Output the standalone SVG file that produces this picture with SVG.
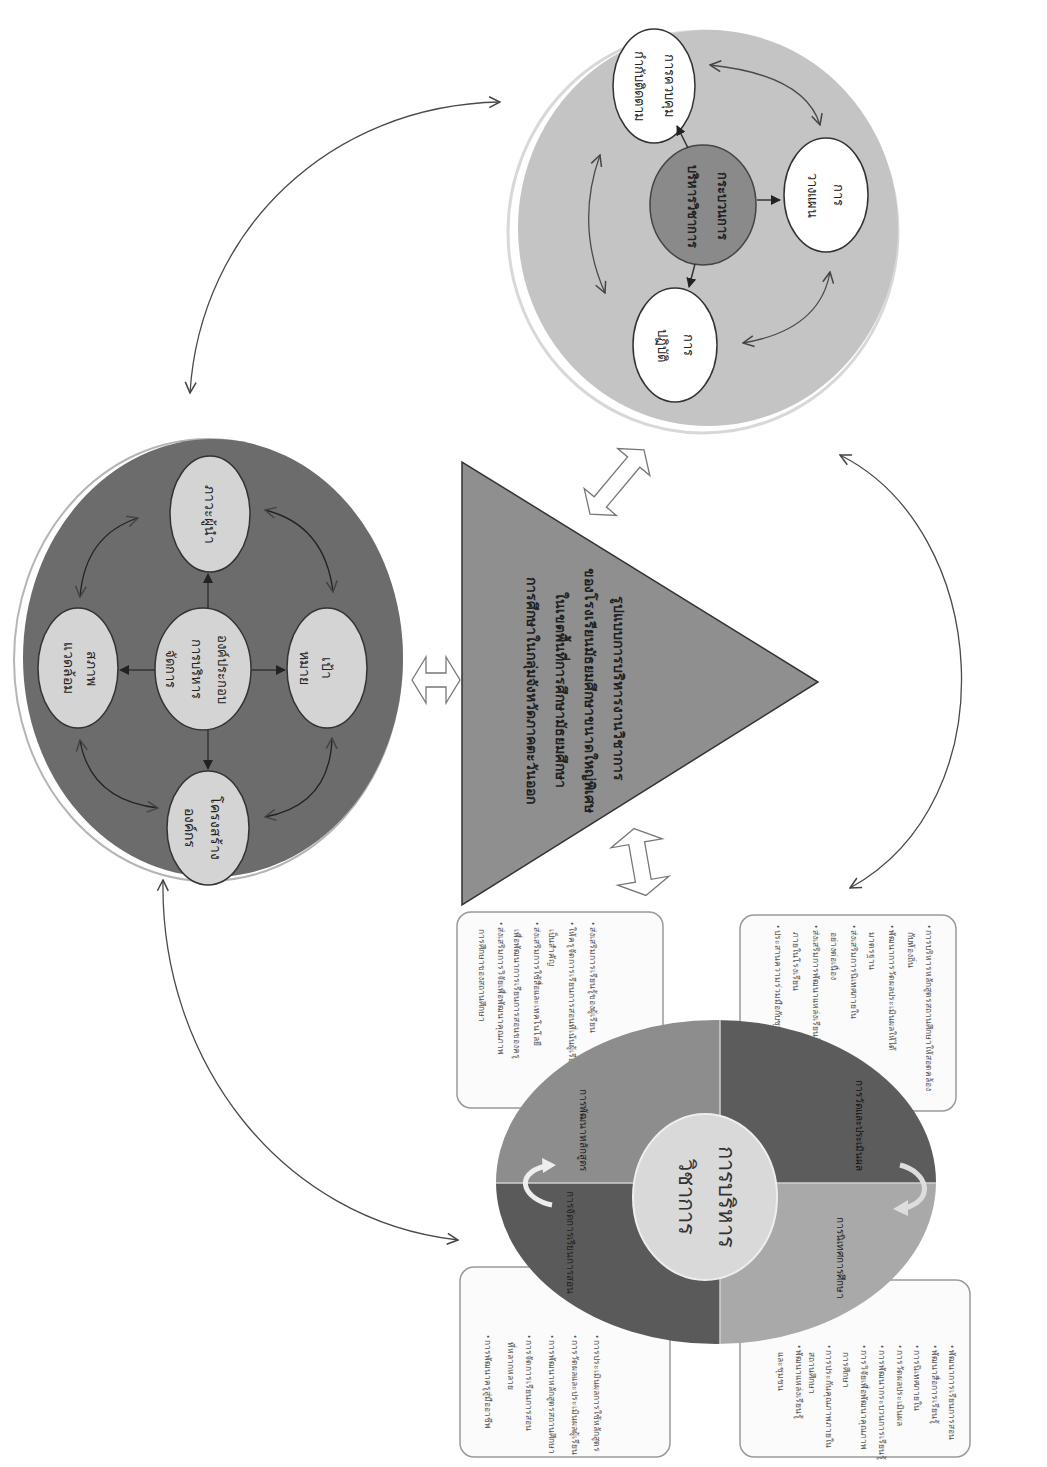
<svg xmlns="http://www.w3.org/2000/svg" width="1047" height="1467" viewBox="0 0 1047 1467">
<defs>
<style>
text{font-family:"Noto Sans","DejaVu Sans","Liberation Sans",sans-serif;fill:#222;}
.lbl{font-size:13px;}
.big{font-size:14px;}
.bold{font-weight:bold;}
.sm{font-size:8.5px;fill:#555;}
.q{font-size:10px;fill:#222;}
.oval{stroke:#333;stroke-width:1.5;}
.conn{fill:none;stroke:#4a4a4a;stroke-width:1.3;}
.inner{fill:none;stroke:#333;stroke-width:1.5;}
.box{fill:#fbfbfb;stroke:#9a9a9a;stroke-width:1.5;}
.blk{fill:#fff;stroke:#777;stroke-width:1.3;}
</style>
<marker id="open" viewBox="0 0 12 12" refX="11" refY="6" markerWidth="13" markerHeight="13" markerUnits="userSpaceOnUse" orient="auto-start-reverse">
<path d="M1,1 L11,6 L1,11" fill="none" stroke="#444" stroke-width="1.4"/>
</marker>
<marker id="solid" viewBox="0 0 10 10" refX="9" refY="5" markerWidth="10" markerHeight="10" markerUnits="userSpaceOnUse" orient="auto">
<path d="M0,0 L10,5 L0,10 z" fill="#222"/>
</marker>
<clipPath id="bclip"><ellipse cx="716" cy="1182" rx="220" ry="162"/></clipPath>
</defs>
<rect width="1047" height="1467" fill="#fff"/>

<!-- long connectors -->
<g id="connectors">
<path class="conn" d="M190,393 C200,230 330,105 500,102" marker-start="url(#open)" marker-end="url(#open)"/>
<path class="conn" d="M840,455 C990,530 1010,800 850,888" marker-start="url(#open)" marker-end="url(#open)"/>
<path class="conn" d="M163,880 C160,1060 280,1220 458,1240" marker-start="url(#open)" marker-end="url(#open)"/>
<g class="blk">
<polygon points="412,680 426,657 426,673 446,673 446,657 460,680 446,703 446,687 426,687 426,703"/>
<polygon transform="translate(617,482) rotate(-50)" points="-42,0 -26,-21 -26,-8 26,-8 26,-21 42,0 26,21 26,8 -26,8 -26,21"/>
<polygon transform="translate(640,862) rotate(80)" points="-34,0 -19,-26 -19,-8 19,-8 19,-26 34,0 19,26 19,8 -19,8 -19,26"/>
</g>
</g>

<!-- top circle: process -->
<g id="process">
<ellipse cx="703" cy="232" rx="195" ry="201" fill="none" stroke="#d8d8d8" stroke-width="3"/>
<ellipse cx="708" cy="228" rx="190" ry="198" fill="#c4c4c4"/>
<ellipse id="proc-center" cx="703" cy="205" rx="53" ry="60" fill="#8a8a8a" stroke="#444" stroke-width="1.5"/>
<text class="lbl bold" transform="translate(708,206) rotate(90)" text-anchor="middle" dominant-baseline="central"><tspan x="0" y="-15">กระบวนการ</tspan><tspan x="0" y="15">บริหารวิชาการ</tspan></text>
<g id="proc-plan"><ellipse class="oval" cx="826" cy="195" rx="42" ry="57" fill="#fff"/>
<text class="lbl" transform="translate(826,195) rotate(90)" text-anchor="middle" dominant-baseline="central"><tspan x="0" y="-13">การ</tspan><tspan x="0" y="13">วางแผน</tspan></text></g>
<g id="proc-do"><ellipse class="oval" cx="675" cy="345" rx="42" ry="57" fill="#fff"/>
<text class="lbl" transform="translate(676,345) rotate(90)" text-anchor="middle" dominant-baseline="central"><tspan x="0" y="-13">การ</tspan><tspan x="0" y="13">ปฏิบัติ</tspan></text></g>
<g id="proc-check"><ellipse class="oval" cx="654" cy="86" rx="41" ry="57" fill="#fff"/>
<text class="lbl" transform="translate(655,86) rotate(90)" text-anchor="middle" dominant-baseline="central"><tspan x="0" y="-15">การควบคุม</tspan><tspan x="0" y="15">กำกับติดตาม</tspan></text></g>
<path class="inner" d="M757,200 L780,200" marker-end="url(#solid)"/>
<path class="inner" d="M695,264 L689,287" marker-end="url(#solid)"/>
<path class="inner" d="M688,148 L677,126" marker-end="url(#solid)"/>
<path class="conn" d="M710,65 Q805,75 820,125" marker-start="url(#open)" marker-end="url(#open)"/>
<path class="conn" d="M830,272 Q820,330 743,343" marker-start="url(#open)" marker-end="url(#open)"/>
<path class="conn" d="M600,155 Q575,225 605,293" marker-start="url(#open)" marker-end="url(#open)"/>
</g>

<!-- left ellipse: management factors -->
<g id="factors">
<ellipse cx="208" cy="660" rx="194" ry="221" fill="none" stroke="#b5b5b5" stroke-width="2"/>
<ellipse cx="213" cy="658" rx="190" ry="219" fill="#6c6c6c"/>
<g id="fac-center"><ellipse class="oval" cx="203" cy="669" rx="48" ry="61" fill="#d4d4d4"/>
<text class="lbl" transform="translate(197,669) rotate(90)" text-anchor="middle" dominant-baseline="central"><tspan x="0" y="-26">องค์ประกอบ</tspan><tspan x="0" y="0">การบริหาร</tspan><tspan x="0" y="26">จัดการ</tspan></text></g>
<g id="fac-lead"><ellipse class="oval" cx="210" cy="514" rx="40" ry="58" fill="#d4d4d4"/>
<text class="big" transform="translate(210,514) rotate(90)" text-anchor="middle" dominant-baseline="central">ภาวะผู้นำ</text></g>
<g id="fac-goal"><ellipse class="oval" cx="327" cy="668" rx="40" ry="60" fill="#d4d4d4"/>
<text class="big" transform="translate(318,668) rotate(90)" text-anchor="middle" dominant-baseline="central"><tspan x="0" y="-10">เป้า</tspan><tspan x="0" y="12">หมาย</tspan></text></g>
<g id="fac-struct"><ellipse class="oval" cx="208" cy="828" rx="41" ry="57" fill="#d4d4d4"/>
<text class="big" transform="translate(204,828) rotate(90)" text-anchor="middle" dominant-baseline="central"><tspan x="0" y="-13">โครงสร้าง</tspan><tspan x="0" y="13">องค์กร</tspan></text></g>
<g id="fac-env"><ellipse class="oval" cx="78" cy="668" rx="40" ry="60" fill="#d4d4d4"/>
<text class="big" transform="translate(82,668) rotate(90)" text-anchor="middle" dominant-baseline="central"><tspan x="0" y="-11">สภาพ</tspan><tspan x="0" y="12">แวดล้อม</tspan></text></g>
<path class="inner" d="M208,608 L208,574" marker-end="url(#solid)"/>
<path class="inner" d="M251,670 L285,670" marker-end="url(#solid)"/>
<path class="inner" d="M208,730 L208,769" marker-end="url(#solid)"/>
<path class="inner" d="M155,670 L120,670" marker-end="url(#solid)"/>
<path class="conn" style="stroke:#222" d="M138,518 Q85,535 80,597" marker-start="url(#open)" marker-end="url(#open)"/>
<path class="conn" style="stroke:#222" d="M265,510 Q325,525 333,592" marker-start="url(#open)" marker-end="url(#open)"/>
<path class="conn" style="stroke:#222" d="M332,738 Q330,805 265,817" marker-start="url(#open)" marker-end="url(#open)"/>
<path class="conn" style="stroke:#222" d="M80,740 Q90,800 158,808" marker-start="url(#open)" marker-end="url(#open)"/>
</g>

<!-- triangle: model -->
<g id="model">
<polygon points="462,462 462,905 818,682" fill="#8f8f8f" stroke="#333" stroke-width="1.5"/>
<text class="big bold" transform="translate(576,690) rotate(90)" text-anchor="middle" dominant-baseline="central"><tspan x="-2" y="-44">รูปแบบการบริหารงานวิชาการ</tspan><tspan x="0" y="-15">ของโรงเรียนมัธยมศึกษาขนาดใหญ่พิเศษ</tspan><tspan x="0" y="14">ในเขตพื้นที่การศึกษามัธยมศึกษา</tspan><tspan x="0" y="43">การศึกษาในกลุ่มจังหวัดภาคตะวันออก</tspan></text>
</g>

<!-- boxes -->
<g id="box-ul">
<rect class="box" x="457" y="912" width="206" height="196" rx="14"/>
<text class="sm" transform="translate(593,922) rotate(90)" dominant-baseline="central">• ส่งเสริมการเรียนรู้ของผู้เรียน</text>
<text class="sm" transform="translate(573,922) rotate(90)" dominant-baseline="central"><tspan x="0" y="0">• ให้ครูจัดการเรียนการสอนที่เน้นผู้เรียน</tspan><tspan x="7" y="20">เป็นสำคัญ</tspan></text>
<text class="sm" transform="translate(538,922) rotate(90)" dominant-baseline="central"><tspan x="0" y="0">• ส่งเสริมการใช้สื่อและเทคโนโลยี</tspan><tspan x="7" y="20">เพื่อพัฒนาการเรียนการสอนของครู</tspan></text>
<text class="sm" transform="translate(502,922) rotate(90)" dominant-baseline="central"><tspan x="0" y="0">• ส่งเสริมการวิจัยเพื่อพัฒนาคุณภาพ</tspan><tspan x="7" y="19">การศึกษาของสถานศึกษา</tspan></text>
</g>
<g id="box-ur">
<rect class="box" x="740" y="915" width="216" height="196" rx="14"/>
<text class="sm" transform="translate(930,925) rotate(90)" dominant-baseline="central"><tspan x="0" y="0">• การบริหารหลักสูตรสถานศึกษาให้สอดคล้อง</tspan><tspan x="7" y="18">กับท้องถิ่น</tspan></text>
<text class="sm" transform="translate(893,925) rotate(90)" dominant-baseline="central"><tspan x="0" y="0">• พัฒนาการวัดผลประเมินผลให้ได้</tspan><tspan x="7" y="20">มาตรฐาน</tspan></text>
<text class="sm" transform="translate(855,925) rotate(90)" dominant-baseline="central"><tspan x="0" y="0">• ส่งเสริมการนิเทศภายใน</tspan><tspan x="7" y="20">อย่างต่อเนื่อง</tspan></text>
<text class="sm" transform="translate(817,925) rotate(90)" dominant-baseline="central"><tspan x="0" y="0">• ส่งเสริมการพัฒนาแหล่งเรียนรู้</tspan><tspan x="7" y="20">ภายในโรงเรียน</tspan></text>
<text class="sm" transform="translate(778,925) rotate(90)" dominant-baseline="central">• ประสานความร่วมมือกับชุมชน</text>
</g>
<g id="box-ll">
<rect class="box" x="460" y="1267" width="210" height="190" rx="14"/>
<text class="sm" transform="translate(597,1335) rotate(90)" dominant-baseline="central">• การประเมินผลการใช้หลักสูตร</text>
<text class="sm" transform="translate(575,1335) rotate(90)" dominant-baseline="central">• การวัดผลและประเมินผลผู้เรียน</text>
<text class="sm" transform="translate(552,1335) rotate(90)" dominant-baseline="central">• การพัฒนาหลักสูตรสถานศึกษา</text>
<text class="sm" transform="translate(530,1335) rotate(90)" dominant-baseline="central"><tspan x="0" y="0">• การจัดการเรียนการสอน</tspan><tspan x="7" y="18">ที่หลากหลาย</tspan></text>
<text class="sm" transform="translate(488,1335) rotate(90)" dominant-baseline="central">• การพัฒนาครูสู่มืออาชีพ</text>
</g>
<g id="box-lr">
<rect class="box" x="740" y="1280" width="230" height="177" rx="14"/>
<text class="sm" transform="translate(952,1345) rotate(90)" dominant-baseline="central">• พัฒนาการเรียนการสอน</text>
<text class="sm" transform="translate(935,1345) rotate(90)" dominant-baseline="central">• พัฒนาสื่อการเรียนรู้</text>
<text class="sm" transform="translate(917,1345) rotate(90)" dominant-baseline="central">• การนิเทศภายใน</text>
<text class="sm" transform="translate(900,1345) rotate(90)" dominant-baseline="central">• การวัดผลประเมินผล</text>
<text class="sm" transform="translate(882,1345) rotate(90)" dominant-baseline="central">• การพัฒนากระบวนการเรียนรู้</text>
<text class="sm" transform="translate(865,1345) rotate(90)" dominant-baseline="central"><tspan x="0" y="0">• การวิจัยเพื่อพัฒนาคุณภาพ</tspan><tspan x="7" y="18">การศึกษา</tspan></text>
<text class="sm" transform="translate(830,1345) rotate(90)" dominant-baseline="central"><tspan x="0" y="0">• การประกันคุณภาพภายใน</tspan><tspan x="7" y="17">สถานศึกษา</tspan></text>
<text class="sm" transform="translate(800,1345) rotate(90)" dominant-baseline="central"><tspan x="0" y="0">• พัฒนาแหล่งเรียนรู้</tspan><tspan x="7" y="18">และชุมชน</tspan></text>
</g>

<!-- bottom ellipse: academic administration -->
<g id="academic">
<g clip-path="url(#bclip)">
<rect x="490" y="1015" width="230" height="168" fill="#8d8d8d"/>
<rect x="720" y="1015" width="220" height="168" fill="#5c5c5c"/>
<rect x="490" y="1183" width="230" height="165" fill="#5a5a5a"/>
<rect x="720" y="1183" width="220" height="165" fill="#a9a9a9"/>
<path d="M490,1183 L940,1183 M720,1015 L720,1348" stroke="#d0d0d0" stroke-width="1.5"/>
</g>
<text class="q" transform="translate(584,1130) rotate(90)" text-anchor="middle" dominant-baseline="central">การพัฒนาหลักสูตร</text>
<text class="q" transform="translate(571,1242) rotate(90)" text-anchor="middle" dominant-baseline="central">การจัดการเรียนการสอน</text>
<text class="q" transform="translate(860,1125) rotate(90)" text-anchor="middle" dominant-baseline="central" style="fill:#111">การวัดและประเมินผล</text>
<text class="q" transform="translate(841,1258) rotate(90)" text-anchor="middle" dominant-baseline="central">การนิเทศการศึกษา</text>
<path d="M552,1205 C525,1200 512,1175 545,1166" fill="none" stroke="#eee" stroke-width="5"/>
<polygon points="542,1158 556,1165 543,1173" fill="#eee"/>
<path d="M900,1165 C928,1172 935,1200 905,1208" fill="none" stroke="#ddd" stroke-width="5"/>
<polygon points="908,1200 893,1209 908,1216" fill="#ddd"/>
<ellipse cx="705" cy="1197" rx="72" ry="83" fill="#d9d9d9" stroke="#eee" stroke-width="2"/>
<text transform="translate(708,1197) rotate(90)" text-anchor="middle" dominant-baseline="central" style="font-size:22px;fill:#333"><tspan x="0" y="-20">การบริหาร</tspan><tspan x="0" y="20">วิชาการ</tspan></text>
</g>
</svg>
